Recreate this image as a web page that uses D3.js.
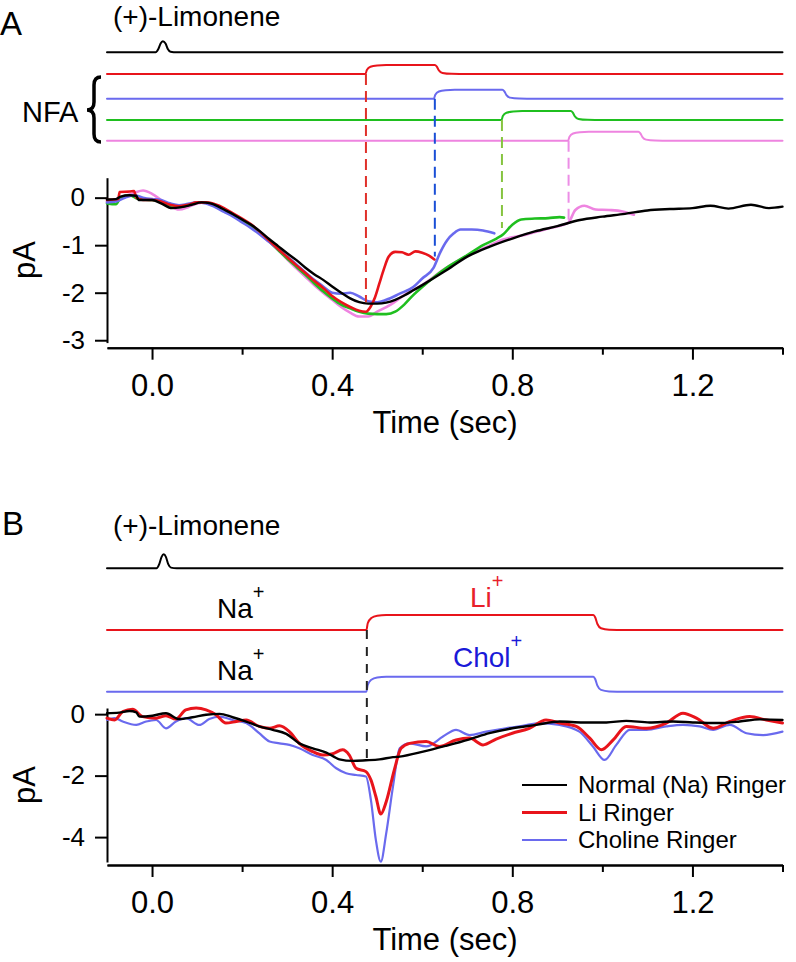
<!DOCTYPE html>
<html lang="en">

<head>
    <meta charset="utf-8">
    <title>Limonene responses - NFA and ion substitution</title>
    <script src="https://cdn.jsdelivr.net/npm/d3@7"></script>
    <style>
        body {
            margin: 0;
            background: #fff;
        }
        svg {
            display: block;
            font-family: "Liberation Sans", Arial, sans-serif;
        }
        .axis path, .axis line {
            stroke: #000;
            stroke-width: 2;
        }
        .axis text {
            font-family: "Liberation Sans", Arial, sans-serif;
            fill: #000;
        }
        .trace {
            fill: none;
            stroke-linejoin: round;
            stroke-linecap: round;
        }
    </style>
</head>

<body>
    <div id="figure"></div>

    <script>
        // ---- data ----
        const timeTicksMajor = [0, 0.4, 0.8, 1.2];
        const timeTicksMinor = [0.2, 0.6, 1.0, 1.4];
        const currentTicksA = [0, -1, -2, -3];
        const currentTicksB = [0, -2, -4];
        const legendLabels = ['Normal (Na) Ringer', 'Li Ringer', 'Choline Ringer'];

        // odor pulse monitor (relative, 0..1), time in sec
        const limoneneA = [[-0.1, 0], [0.008, 0], [0.014, 0.3], [0.019, 0.8], [0.024, 1], [0.03, 0.8], [0.035, 0.3], [0.041, 0.05], [0.055, 0], [1.4, 0]];
        const limoneneB = [[-0.1, 0], [0.01, 0], [0.016, 0.3], [0.021, 0.8], [0.026, 1], [0.031, 0.8], [0.036, 0.3], [0.042, 0.05], [0.055, 0], [1.4, 0]];

        // NFA application monitors (relative, 0..1)
        const nfaRed = [[-0.1, 0], [0.474, 0], [0.477, 0.45], [0.485, 0.8], [0.5, 0.95], [0.52, 1], [0.628, 1], [0.632, 0.85], [0.637, 0.4], [0.645, 0.12], [0.665, 0.02], [0.7, 0], [1.4, 0]];
        const nfaBlue = [[-0.1, 0], [0.626, 0], [0.629, 0.45], [0.637, 0.8], [0.652, 0.95], [0.672, 1], [0.778, 1], [0.782, 0.85], [0.787, 0.4], [0.795, 0.12], [0.815, 0.02], [0.85, 0], [1.4, 0]];
        const nfaGreen = [[-0.1, 0], [0.776, 0], [0.779, 0.45], [0.787, 0.8], [0.802, 0.95], [0.822, 1], [0.93, 1], [0.934, 0.85], [0.939, 0.4], [0.947, 0.12], [0.967, 0.02], [1.0, 0], [1.4, 0]];
        const nfaPink = [[-0.1, 0], [0.924, 0], [0.927, 0.45], [0.935, 0.8], [0.95, 0.95], [0.97, 1], [1.08, 1], [1.084, 0.85], [1.089, 0.4], [1.097, 0.12], [1.117, 0.02], [1.15, 0], [1.4, 0]];
        // dashed markers: NFA onset time and current reached there (pA)
        const nfaOnsets = [
            {t: 0.475, pA: -2.2},
            {t: 0.628, pA: -1.24},
            {t: 0.777, pA: -0.64},
            {t: 0.925, pA: -0.53}
        ];

        // panel A currents (time sec, pA)
        const currentControlA = [[-0.1, -0.04], [-0.08, -0.03], [-0.07, 0.02], [-0.05, 0.05], [-0.035, 0.04], [-0.03, -0.05], [-0.01, -0.05], [0.0, -0.05], [0.02, -0.12], [0.044, -0.22], [0.065, -0.2], [0.088, -0.15], [0.11, -0.1], [0.13, -0.12], [0.15, -0.2], [0.16, -0.25], [0.18, -0.35], [0.2, -0.46], [0.22, -0.57], [0.24, -0.71], [0.26, -0.87], [0.28, -1.02], [0.3, -1.17], [0.32, -1.31], [0.34, -1.47], [0.36, -1.61], [0.38, -1.73], [0.4, -1.87], [0.42, -2.0], [0.44, -2.12], [0.46, -2.2], [0.48, -2.23], [0.5, -2.23], [0.52, -2.21], [0.54, -2.15], [0.56, -2.06], [0.58, -1.95], [0.6, -1.84], [0.65, -1.55], [0.7, -1.24], [0.75, -1.03], [0.8, -0.86], [0.85, -0.71], [0.9, -0.6], [0.95, -0.47], [1.0, -0.4], [1.05, -0.34], [1.1, -0.27], [1.15, -0.24], [1.2, -0.22], [1.24, -0.17], [1.28, -0.23], [1.33, -0.15], [1.37, -0.22], [1.4, -0.19]];
        const currentRedA = [[-0.1, -0.05], [-0.075, -0.03], [-0.072, 0.12], [-0.05, 0.13], [-0.04, 0.14], [-0.035, 0.0], [-0.02, -0.05], [0.0, -0.05], [0.02, -0.08], [0.04, -0.15], [0.06, -0.18], [0.08, -0.15], [0.1, -0.1], [0.12, -0.1], [0.14, -0.14], [0.16, -0.22], [0.18, -0.33], [0.2, -0.44], [0.22, -0.56], [0.24, -0.72], [0.26, -0.9], [0.28, -1.08], [0.3, -1.25], [0.32, -1.42], [0.34, -1.58], [0.36, -1.75], [0.38, -1.9], [0.4, -2.07], [0.42, -2.2], [0.44, -2.3], [0.46, -2.38], [0.475, -2.4], [0.485, -2.3], [0.495, -2.1], [0.505, -1.8], [0.515, -1.5], [0.525, -1.25], [0.54, -1.14], [0.555, -1.15], [0.57, -1.2], [0.585, -1.13], [0.6, -1.16], [0.615, -1.22], [0.627, -1.3]];
        const currentBlueA = [[-0.1, -0.1], [-0.08, -0.08], [-0.06, 0.0], [-0.04, 0.05], [-0.02, 0.0], [0.0, -0.03], [0.02, -0.05], [0.04, -0.12], [0.06, -0.16], [0.08, -0.13], [0.1, -0.1], [0.12, -0.12], [0.14, -0.2], [0.16, -0.3], [0.18, -0.4], [0.2, -0.52], [0.22, -0.64], [0.24, -0.78], [0.26, -0.93], [0.28, -1.08], [0.3, -1.24], [0.32, -1.4], [0.34, -1.57], [0.36, -1.73], [0.38, -1.87], [0.4, -2.0], [0.42, -2.02], [0.44, -2.0], [0.46, -2.08], [0.48, -2.18], [0.5, -2.2], [0.52, -2.15], [0.55, -2.02], [0.58, -1.88], [0.6, -1.7], [0.625, -1.48], [0.64, -1.15], [0.655, -0.9], [0.67, -0.75], [0.685, -0.67], [0.71, -0.67], [0.735, -0.69], [0.76, -0.75]];
        const currentGreenA = [[-0.1, -0.12], [-0.08, -0.14], [-0.07, 0.0], [-0.05, 0.05], [-0.03, -0.03], [0.0, -0.05], [0.02, -0.08], [0.04, -0.16], [0.06, -0.2], [0.08, -0.16], [0.1, -0.1], [0.12, -0.1], [0.14, -0.17], [0.16, -0.25], [0.18, -0.36], [0.2, -0.48], [0.22, -0.6], [0.24, -0.75], [0.26, -0.92], [0.28, -1.1], [0.3, -1.28], [0.32, -1.45], [0.34, -1.62], [0.36, -1.8], [0.38, -1.97], [0.4, -2.12], [0.42, -2.25], [0.44, -2.33], [0.46, -2.4], [0.48, -2.44], [0.5, -2.45], [0.52, -2.45], [0.54, -2.4], [0.56, -2.25], [0.58, -2.05], [0.6, -1.88], [0.65, -1.5], [0.7, -1.21], [0.735, -1.0], [0.765, -0.86], [0.78, -0.77], [0.8, -0.57], [0.82, -0.46], [0.85, -0.44], [0.88, -0.43], [0.905, -0.41], [0.915, -0.42]];
        const currentPinkA = [[-0.1, -0.08], [-0.07, 0.0], [-0.04, 0.1], [-0.02, 0.15], [0.0, 0.08], [0.02, -0.05], [0.04, -0.18], [0.06, -0.25], [0.08, -0.2], [0.1, -0.12], [0.12, -0.1], [0.14, -0.15], [0.16, -0.24], [0.18, -0.35], [0.2, -0.48], [0.22, -0.6], [0.24, -0.76], [0.26, -0.93], [0.28, -1.1], [0.3, -1.3], [0.32, -1.48], [0.34, -1.66], [0.36, -1.84], [0.38, -2.0], [0.4, -2.15], [0.42, -2.3], [0.44, -2.42], [0.46, -2.5], [0.48, -2.5], [0.5, -2.4], [0.53, -2.25], [0.56, -2.05], [0.6, -1.84], [0.65, -1.5], [0.7, -1.22], [0.74, -1.05], [0.78, -0.88], [0.83, -0.78], [0.88, -0.65], [0.91, -0.58], [0.925, -0.52], [0.94, -0.26], [0.96, -0.17], [0.985, -0.25], [1.015, -0.26], [1.045, -0.29], [1.07, -0.36]];

        // solution exchange monitors, panel B (relative, 0..1)
        const liStep = [[-0.1, 0], [0.476, 0], [0.479, 0.45], [0.487, 0.8], [0.5, 0.95], [0.52, 1], [0.98, 1], [0.984, 0.85], [0.989, 0.4], [0.997, 0.12], [1.015, 0.02], [1.05, 0], [1.4, 0]];
        const cholStep = [[-0.1, 0], [0.476, 0], [0.479, 0.45], [0.487, 0.8], [0.5, 0.95], [0.52, 1], [0.98, 1], [0.984, 0.85], [0.989, 0.4], [0.997, 0.12], [1.015, 0.02], [1.05, 0], [1.4, 0]];
        const exchangeOnsetB = {t: 0.477, pA: -1.5};

        // panel B currents (time sec, pA)
        const currentNaB = [[-0.1, 0.03], [-0.073, 0.05], [-0.05, 0.1], [-0.035, 0.06], [-0.028, -0.08], [0.001, -0.05], [0.031, 0.03], [0.06, -0.16], [0.09, -0.1], [0.12, -0.02], [0.15, 0.01], [0.179, -0.1], [0.209, -0.24], [0.238, -0.4], [0.268, -0.51], [0.298, -0.64], [0.327, -0.95], [0.357, -1.11], [0.387, -1.25], [0.416, -1.47], [0.446, -1.52], [0.475, -1.5], [0.505, -1.47], [0.535, -1.4], [0.55, -1.38], [0.602, -1.22], [0.653, -1.03], [0.705, -0.82], [0.749, -0.62], [0.8, -0.46], [0.853, -0.35], [0.905, -0.24], [0.957, -0.27], [1.009, -0.27], [1.053, -0.22], [1.105, -0.27], [1.157, -0.24], [1.201, -0.27], [1.253, -0.29], [1.305, -0.24], [1.349, -0.17], [1.4, -0.19]];
        const currentLiB = [[-0.1, -0.13], [-0.083, -0.19], [-0.065, 0.08], [-0.043, 0.16], [-0.021, -0.08], [0.009, -0.13], [0.031, -0.05], [0.053, -0.16], [0.075, 0.14], [0.098, 0.2], [0.12, 0.14], [0.142, -0.02], [0.164, -0.29], [0.187, -0.24], [0.209, -0.19], [0.238, -0.4], [0.261, -0.46], [0.283, -0.38], [0.305, -0.57], [0.327, -0.95], [0.357, -1.22], [0.379, -1.33], [0.401, -1.29], [0.423, -1.16], [0.438, -1.33], [0.453, -1.76], [0.475, -1.87], [0.486, -2.14], [0.497, -2.68], [0.508, -3.25], [0.52, -2.85], [0.538, -1.81], [0.553, -1.11], [0.572, -0.95], [0.609, -0.89], [0.638, -1.05], [0.675, -0.84], [0.705, -0.78], [0.735, -1.0], [0.764, -0.81], [0.8, -0.62], [0.838, -0.46], [0.875, -0.19], [0.905, -0.29], [0.942, -0.4], [0.972, -0.78], [0.998, -1.16], [1.024, -0.84], [1.053, -0.4], [1.098, -0.46], [1.142, -0.29], [1.179, 0.03], [1.209, -0.13], [1.246, -0.46], [1.283, -0.24], [1.327, -0.08], [1.364, -0.19], [1.4, -0.29]];
        const currentCholB = [[-0.1, -0.19], [-0.083, -0.13], [-0.065, -0.24], [-0.035, -0.35], [-0.013, -0.24], [0.009, -0.19], [0.031, -0.46], [0.053, -0.24], [0.075, -0.13], [0.105, -0.35], [0.127, -0.16], [0.15, -0.08], [0.179, -0.19], [0.209, -0.29], [0.238, -0.62], [0.261, -0.89], [0.283, -0.95], [0.305, -1.0], [0.327, -1.11], [0.357, -1.33], [0.387, -1.49], [0.409, -1.76], [0.431, -1.92], [0.453, -1.98], [0.475, -2.03], [0.486, -2.79], [0.497, -4.09], [0.508, -4.8], [0.52, -3.88], [0.535, -2.36], [0.55, -1.11], [0.572, -0.95], [0.609, -1.05], [0.646, -0.73], [0.675, -0.51], [0.705, -0.68], [0.742, -0.57], [0.786, -0.46], [0.823, -0.38], [0.86, -0.29], [0.905, -0.35], [0.949, -0.57], [0.979, -1.05], [1.005, -1.49], [1.031, -1.0], [1.061, -0.51], [1.098, -0.51], [1.142, -0.4], [1.179, -0.35], [1.216, -0.4], [1.246, -0.51], [1.283, -0.35], [1.32, -0.62], [1.357, -0.68], [1.4, -0.57]];

        // ---- drawing ----
        const colors = {
            black: '#000',
            red: '#e8141b',
            blue: '#6a6aee',
            green: '#1fbf1f',
            pink: '#ee84e0'
        };

        const svg = d3.select('#figure')
            .append('svg')
                .attr('width', 796)
                .attr('height', 962);

        const x = d3.scaleLinear()
            .domain([-0.1, 1.4])
            .range([107, 782.5]);

        const y_a = d3.scaleLinear()
            .domain([-3.05, 0.42])
            .range([342.6, 177.7]);

        const y_b = d3.scaleLinear()
            .domain([-4.81, 0.2])
            .range([862, 708]);

        // monitor traces sit on a baseline, values scaled by a step height in px
        function drawMonitor(data, baseline, height, color, width) {
            const line = d3.line()
                .x(d => x(d[0]))
                .y(d => baseline - d[1] * height)
                .curve(d3.curveMonotoneX);
            svg.append('path')
                .attr('class', 'trace')
                .attr('d', line(data))
                .attr('stroke', color)
                .attr('stroke-width', width);
        }

        function drawCurrent(data, y, color, width) {
            const line = d3.line()
                .x(d => x(d[0]))
                .y(d => y(d[1]))
                .curve(d3.curveMonotoneX);
            svg.append('path')
                .attr('class', 'trace')
                .attr('d', line(data))
                .attr('stroke', color)
                .attr('stroke-width', width);
        }

        function drawDash(t, top, bottom, color, dash) {
            svg.append('line')
                .attr('x1', x(t)).attr('x2', x(t))
                .attr('y1', top).attr('y2', bottom)
                .attr('stroke', color)
                .attr('stroke-width', 2)
                .attr('stroke-dasharray', dash);
        }

        function drawAxes(y, yTicks, axisY, tickLabelBase, titleBase, pALabelY) {
            // minor time ticks
            svg.append('g')
                .attr('class', 'axis')
                .attr('transform', `translate(0, ${axisY})`)
                .call(d3.axisBottom(x).tickValues(timeTicksMinor).tickSize(7).tickSizeOuter(0).tickFormat(''));
            // labelled time ticks
            svg.append('g')
                .attr('class', 'axis')
                .attr('transform', `translate(0, ${axisY})`)
                .call(d3.axisBottom(x).tickValues(timeTicksMajor).tickSize(12).tickSizeOuter(0)
                    .tickFormat(d3.format('.1f')))
                .call(g => g.selectAll('text')
                    .attr('y', tickLabelBase - axisY)
                    .attr('dy', null)
                    .attr('font-size', 31));
            // current axis
            svg.append('g')
                .attr('class', 'axis')
                .attr('transform', 'translate(107, 0)')
                .call(d3.axisLeft(y).tickValues(yTicks).tickSize(12).tickSizeOuter(0).tickPadding(10)
                    .tickFormat(d => String(d)))
                .call(g => g.selectAll('text').attr('font-size', 26));

            svg.append('text')
                .attr('x', 445)
                .attr('y', titleBase)
                .attr('text-anchor', 'middle')
                .attr('font-size', 31)
                .text('Time (sec)');

            svg.append('text')
                .attr('transform', `translate(35, ${pALabelY}) rotate(-90)`)
                .attr('text-anchor', 'middle')
                .attr('font-size', 31)
                .text('pA');
        }

        // ===== panel A =====
        svg.append('text').attr('x', 0).attr('y', 35).attr('font-size', 33).text('A');
        svg.append('text').attr('x', 113).attr('y', 26).attr('font-size', 28).text('(+)-Limonene');
        svg.append('text').attr('x', 22).attr('y', 122).attr('font-size', 29).text('NFA');

        // curly brace for the NFA rows
        svg.append('path')
            .attr('d', 'M101,77 Q94,77 94,85 L94,102 Q94,110 87,110 Q94,110 94,118 L94,134 Q94,142 101,142')
            .attr('fill', 'none')
            .attr('stroke', '#000')
            .attr('stroke-width', 3.5);

        drawMonitor(limoneneA, 52.3, 11, colors.black, 2);
        drawMonitor(nfaRed, 74, 9, colors.red, 2);
        drawMonitor(nfaBlue, 98.7, 9, colors.blue, 2);
        drawMonitor(nfaGreen, 120, 9, colors.green, 2);
        drawMonitor(nfaPink, 140.7, 9, colors.pink, 2);

        drawAxes(y_a, currentTicksA, 347.7, 396, 433, 260);

        drawCurrent(currentPinkA, y_a, colors.pink, 2.6);
        drawCurrent(currentGreenA, y_a, colors.green, 2.6);
        drawCurrent(currentBlueA, y_a, colors.blue, 2.6);
        drawCurrent(currentRedA, y_a, colors.red, 2.6);
        drawCurrent(currentControlA, y_a, colors.black, 2.4);

        const dashColors = ['#e0302a', '#1a4fd6', '#86c440', '#ec8ee6'];
        const rowBaselines = [74, 98.7, 120, 140.7];
        nfaOnsets.forEach((d, i) => drawDash(d.t, rowBaselines[i], y_a(d.pA), dashColors[i], '11,6'));

        // ===== panel B =====
        svg.append('text').attr('x', 2).attr('y', 535).attr('font-size', 33).text('B');
        svg.append('text').attr('x', 113).attr('y', 535).attr('font-size', 28).text('(+)-Limonene');

        drawMonitor(limoneneB, 568.3, 14, colors.black, 2);
        drawMonitor(liStep, 630, 15, colors.red, 2);
        drawMonitor(cholStep, 691.7, 15, colors.blue, 2);

        // ion labels with superscript +
        function ionLabel(name, xPos, base, color, supDy) {
            const t = svg.append('text')
                .attr('x', xPos)
                .attr('y', base)
                .attr('font-size', 28)
                .attr('fill', color)
                .text(name);
            t.append('tspan')
                .attr('dy', supDy)
                .attr('font-size', 20)
                .text('+');
        }
        ionLabel('Na', 217, 618, '#000', -19);
        ionLabel('Li', 470, 607, '#e8202a', -19);
        ionLabel('Na', 217, 680, '#000', -19);
        ionLabel('Chol', 453, 667, '#1a1ad8', -19);

        drawAxes(y_b, currentTicksB, 865, 913, 950, 785);

        drawCurrent(currentCholB, y_b, colors.blue, 2.2);
        drawCurrent(currentLiB, y_b, colors.red, 3);
        drawCurrent(currentNaB, y_b, colors.black, 2.4);

        drawDash(exchangeOnsetB.t, 630, y_b(exchangeOnsetB.pA), '#222', '9,8');

        // legend
        const legendColors = [colors.black, colors.red, colors.blue];
        const legendWidths = [2, 3, 2];
        const legend = svg.append('g')
            .selectAll('g')
            .data(legendLabels)
            .join('g')
                .attr('transform', (d, i) => `translate(0, ${793 + i * 27.5})`);
        legend.append('line')
            .attr('x1', 522).attr('x2', 567)
            .attr('y1', -8).attr('y2', -8)
            .attr('stroke', (d, i) => legendColors[i])
            .attr('stroke-width', (d, i) => legendWidths[i]);
        legend.append('text')
            .attr('x', 578)
            .attr('font-size', 24)
            .text(d => d);
    </script>
</body>

</html>
